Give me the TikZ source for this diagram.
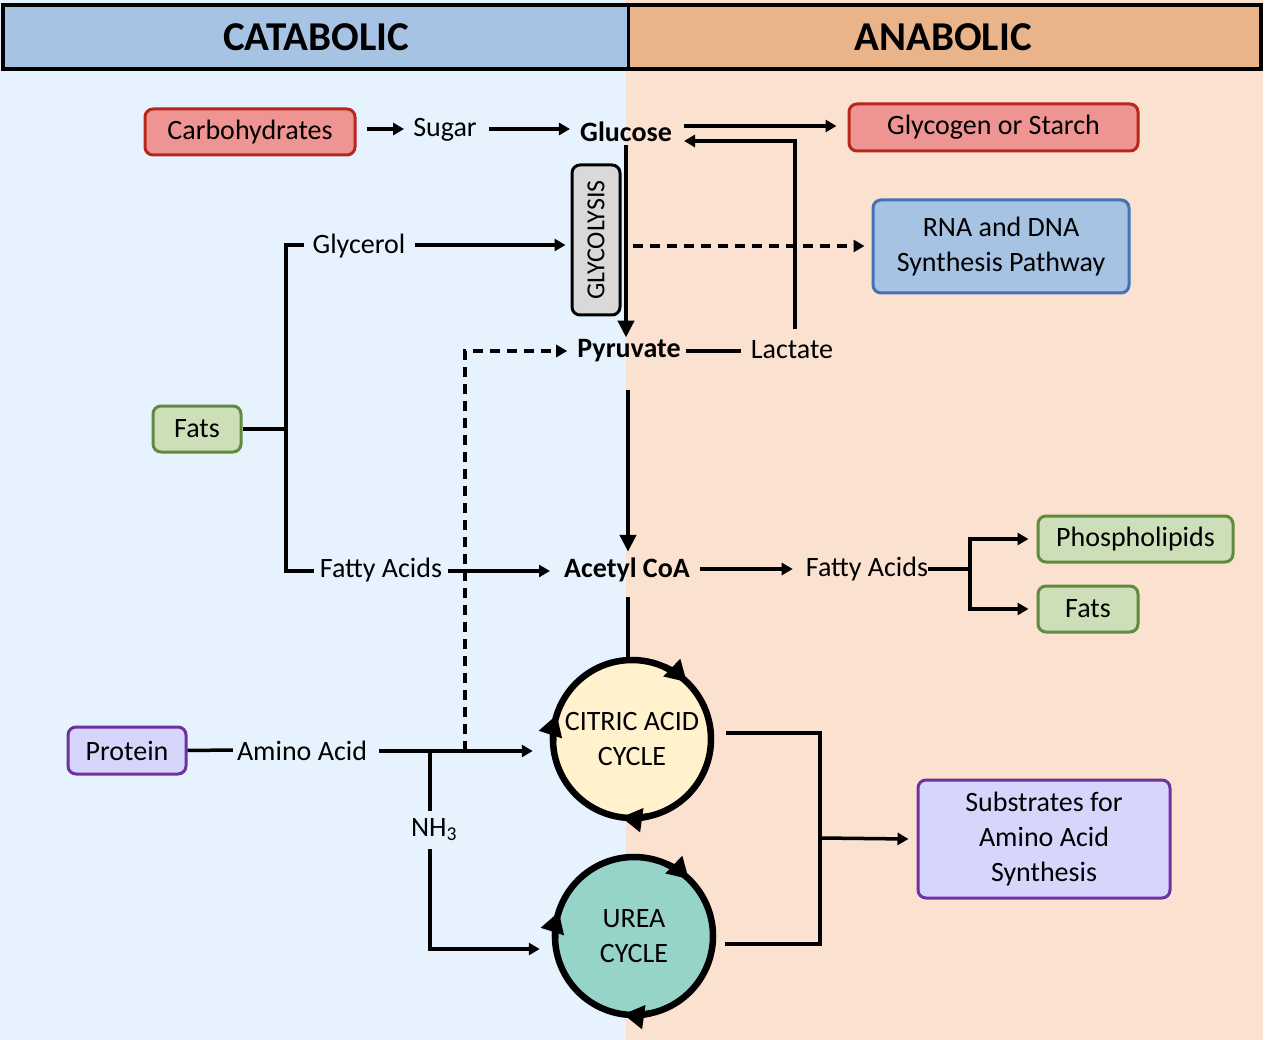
\documentclass[tikz,border=0pt]{standalone}
\usepackage{fontspec}
\setmainfont{Carlito}
\usetikzlibrary{arrows.meta,calc}
\definecolor{bgL}{HTML}{E6F2FE}
\definecolor{bgR}{HTML}{FAE1D0}
\definecolor{hdrL}{HTML}{A7C3E3}
\definecolor{hdrR}{HTML}{E9B48A}
\definecolor{pinkfill}{HTML}{EE9493}
\definecolor{redline}{HTML}{B7271C}
\definecolor{greenfill}{HTML}{CCDFB8}
\definecolor{greenline}{HTML}{628A3F}
\definecolor{bluefill}{HTML}{A6C3E4}
\definecolor{blueline}{HTML}{4472B4}
\definecolor{lavfill}{HTML}{D6D5FC}
\definecolor{purpleline}{HTML}{7030A0}
\definecolor{grayfill}{HTML}{D9D9D9}
\definecolor{creamfill}{HTML}{FFF2CC}
\definecolor{tealfill}{HTML}{96D3C9}
\begin{document}
\begin{tikzpicture}[x=1pt,y=1pt,
  lbl/.style={font=\fontsize{28}{35}\selectfont, inner sep=0pt},
  blbl/.style={font=\fontsize{28}{35}\selectfont\bfseries, inner sep=0pt},
  title/.style={font=\fontsize{41}{48}\selectfont\bfseries, inner sep=0pt},
  box/.style={draw, line width=3pt, rounded corners=8pt, inner sep=0pt, align=center,
    font=\fontsize{28}{35}\selectfont},
  redbox/.style={box, fill=pinkfill, draw=redline},
  greenbox/.style={box, fill=greenfill, draw=greenline},
  bluebox/.style={box, fill=bluefill, draw=blueline},
  lavbox/.style={box, fill=lavfill, draw=purpleline},
  graybox/.style={box, fill=grayfill, draw=black, font=\fontsize{26}{30}\selectfont},
  conn/.style={line width=3.5pt},
  arr/.style={conn, -{Triangle[length=11pt,width=12pt]}},
  darr/.style={arr, dash pattern=on 10pt off 7pt},
  tarr/.style={line width=4.5pt, -{Triangle[length=17pt,width=16pt]}},
  tline/.style={line width=4.5pt},
  cyc/.style={circle, draw=black, line width=6.5pt, inner sep=0pt, align=center,
    minimum size=158pt, font=\fontsize{28}{35}\selectfont},
  cycarr/.style={line width=6.5pt, -{Triangle[length=21pt,width=23pt]}},
]
\useasboundingbox (0,0) rectangle (1266,-1040);
% backgrounds
\fill[white] (0,0) rectangle (1266,-1040);
\fill[bgL] (0,0) rectangle (626,-1040);
\fill[bgR] (626,0) rectangle (1263,-1040);
% header
\fill[hdrL] (3,-5) rectangle (628,-69);
\fill[hdrR] (628,-5) rectangle (1261,-69);
\draw[line width=3.5pt] (3,-5) rectangle (1261,-69);
\draw[line width=3pt] (628,-5) -- (628,-69);
\node[title] (cat) at (316,-37) {CATABOLIC};
\node[title] (ana) at (943,-37) {ANABOLIC};

% nodes
\node[redbox, minimum width=210pt, minimum height=46pt] (carb) at (250,-132) {Carbohydrates};
\node[lbl] (sugar) at (445,-130) {Sugar};
\node[blbl] (glucose) at (626,-132) {Glucose};
\node[redbox, minimum width=289pt, minimum height=47pt] (glycogen) at (993.5,-127.5) {Glycogen or Starch};
\node[graybox, minimum width=48pt, minimum height=150pt] (glycbox) at (596,-240) {\rotatebox{90}{GLYCOLYSIS}};
\node[lbl] (glycerol) at (359,-246) {Glycerol};
\node[bluebox, minimum width=256pt, minimum height=93pt] (rna) at (1001,-246.5) {RNA and DNA\\Synthesis Pathway};
\node[blbl] (pyruvate) at (629,-351) {Pyruvate};
\node[lbl] (lactate) at (792,-350) {Lactate};
\node[greenbox, minimum width=88pt, minimum height=46pt] (fatsL) at (197,-429) {Fats};
\node[lbl] (fattyL) at (381,-570) {Fatty Acids};
\node[blbl] (acetyl) at (627,-570) {Acetyl CoA};
\node[lbl] (fattyR) at (867,-569) {Fatty Acids};
\node[greenbox, minimum width=195pt, minimum height=46pt] (phos) at (1135.5,-539) {Phospholipids};
\node[greenbox, minimum width=100pt, minimum height=46pt] (fatsR) at (1088,-609) {Fats};
\node[cyc, fill=creamfill] (citric) at (632,-739) {CITRIC ACID\\CYCLE};
\node[cyc, fill=tealfill] (urea) at (634,-936) {UREA\\CYCLE};
\node[lavbox, minimum width=118pt, minimum height=47pt] (protein) at (127,-750.5) {Protein};
\node[lbl] (amino) at (302,-751) {Amino Acid};
\node[lbl] (nh3) at (434,-830) {NH\textsubscript{3}};
\node[lavbox, minimum width=252pt, minimum height=118pt] (subs) at (1044,-839) {Substrates for\\Amino Acid\\Synthesis};

% cycle arrowheads
\draw[cycarr] ([shift={(citric.center)}]66:79pt) arc[start angle=66,end angle=46,radius=79pt];
\draw[cycarr] ([shift={(citric.center)}]182:79pt) arc[start angle=182,end angle=162,radius=79pt];
\draw[cycarr] ([shift={(citric.center)}]282:79pt) arc[start angle=282,end angle=262,radius=79pt];
\draw[cycarr] ([shift={(urea.center)}]66:79pt) arc[start angle=66,end angle=46,radius=79pt];
\draw[cycarr] ([shift={(urea.center)}]182:79pt) arc[start angle=182,end angle=162,radius=79pt];
\draw[cycarr] ([shift={(urea.center)}]282:79pt) arc[start angle=282,end angle=262,radius=79pt];

% junction coordinates
\coordinate (fj) at (286,-429);
\coordinate (rj) at (970,-569);
\coordinate (jn) at (430,-751);
\coordinate (jd) at (465,-751);
\coordinate (bj) at (820,-838);

% connectors
\draw[arr] ($(carb.east |- sugar)+(10,1)$) -- ($(sugar.west)+(-9,1)$);
\draw[arr] ($(sugar.east)+(12,1)$) -- ($(glucose.west |- sugar)+(-10,1)$);
\draw[arr] ($(glucose.east)+(12,6)$) -- ($(glycogen.west |- glucose)+(-11,6)$);
\draw[conn, -{Triangle[length=11pt,width=12pt]}] ($(lactate.north)+(3,12)$) |- ($(glucose.east)+(12,-9)$);
\draw[tarr] ($(glucose.south)+(0,-3)$) -- ($(glucose.south |- pyruvate.north)+(0,2)$);
\draw[arr] ($(glycerol.east)+(9,1)$) -- ($(glycbox.west |- glycerol)+(-5,1)$);
\draw[darr] ($(glycbox.east |- glycerol)+(11,0)$) -- ($(rna.west |- glycerol)+(-7,0)$);
\draw[conn] ($(pyruvate.east)+(5,0)$) -- ($(lactate.west)+(-10,-1)$);
\draw[darr] (jd) |- ($(pyruvate.west)+(-10,0)$);
\draw[tarr] ($(pyruvate.south)+(-1,-28)$) -- ($(pyruvate.south |- acetyl.north)+(-1,6)$);
\draw[conn] (fatsL.east) -- (fj);
\draw[conn] ($(glycerol.west)+(-8,1)$) -| (fj) |- ($(fattyL.west)+(-6,-1)$);
\draw[arr] ($(fattyL.east)+(6,-1)$) -- ($(acetyl.west)+(-14,-1)$);
\draw[arr] ($(acetyl.east)+(10,1)$) -- ($(fattyR.west)+(-13,0)$);
\draw[conn] ($(fattyR.east)+(0,0)$) -- (rj);
\draw[arr] (rj) |- ($(phos.west)+(-8,0)$);
\draw[arr] (rj) |- ($(fatsR.west)+(-8,0)$);
\draw[tline] ($(acetyl.south)+(1,-15)$) -- ($(acetyl.south |- citric.north)+(1,-2)$);
\draw[conn] (protein.east) -- ($(amino.west)+(-4,1)$);
\draw[arr] ($(amino.east)+(12,0)$) -- ($(amino.east -| citric.west)+(-17,0)$);
\draw[conn] (jn) -- ($(jn |- nh3.north)+(0,8)$);
\draw[arr] ($(jn |- nh3.south)+(0,-8)$) |- ($(urea.west)+(-12,-13)$);
\draw[conn] ($(citric.east)+(12,6)$) -| (bj) |- ($(urea.east)+(9,-8)$);
\draw[arr] (bj) -- ($(subs.west)+(-8,0)$);
\end{tikzpicture}
\end{document}
